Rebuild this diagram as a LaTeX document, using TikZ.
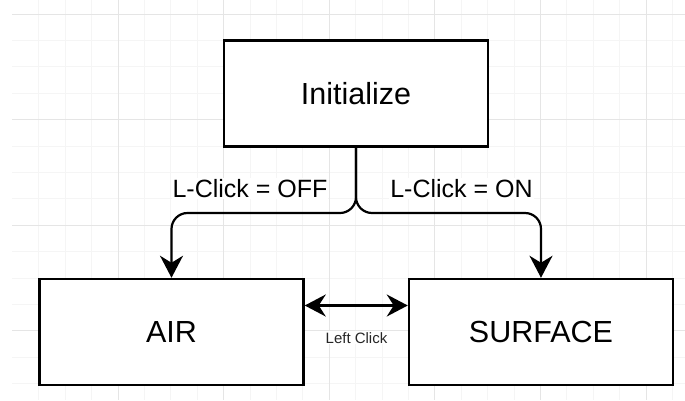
\documentclass[tikz,border=0pt]{standalone}
\usepackage{fontspec}
\setmainfont{Liberation Sans}
\usetikzlibrary{arrows.meta}

\begin{document}
\begin{tikzpicture}[x=1pt, y=-1pt,
	state/.style={draw, line width=2.5pt, fill=white, minimum width=264pt, minimum height=106pt, inner sep=0pt, font=\fontsize{30.5}{36}\selectfont},
	flow/.style={line width=2.2pt, rounded corners=16pt, -{Stealth[length=22pt, width=23pt, inset=7pt]}},
	both/.style={line width=2.2pt, {Stealth[length=21pt, width=22pt, inset=7pt]}-{Stealth[length=21pt, width=22pt, inset=7pt]}},
	cond/.style={font=\fontsize{25}{30}\selectfont, fill=white, inner sep=1pt, anchor=base}]
	\useasboundingbox (0,0) rectangle (685,400);
	\fill[white] (0,0) rectangle (685,400);
	
	\foreach \k in {1,...,25}
	{
		\draw[black!4, line width=0.8pt] (12.4+26.4*\k, 0) -- ++(0,400);
	}
	\foreach \k in {0,...,14}
	{
		\draw[black!4, line width=0.8pt] (12.4, 14+26.4*\k) -- (685, 14+26.4*\k);
	}
	\foreach \k in {4,8,...,24}
	{
		\draw[black!10, line width=0.8pt] (12.4+26.4*\k, 0) -- ++(0,400);
	}
	\foreach \k in {0,4,8,12}
	{
		\draw[black!10, line width=0.8pt] (12.4, 14+26.4*\k) -- (685, 14+26.4*\k);
	}
	
	\node[state] (init) at (356,93.7) {Initialize};
	\node[state] (air) at (171.5,332) {AIR};
	\node[state] (surface) at (541,332) {SURFACE};
	
	\coordinate (split) at (356,213);
	\draw[flow] (init.south) |- (air.north |- split) -- (air.north);
	\draw[flow] (init.south) |- (surface.north |- split) -- (surface.north);
	\node[cond] (off) at (250,197.3) {L-Click = OFF};
	\node[cond] (on) at (461.5,197.3) {L-Click = ON};
	
	\coordinate (link) at (356,305.5);
	\draw[both] (air.east |- link) -- (surface.west |- link);
	\node[font=\fontsize{15}{18}\selectfont, text=black!85, fill=white, inner sep=1pt, anchor=base] (leftclick) at (356.5,343.3) {Left Click};
\end{tikzpicture}
\end{document}
